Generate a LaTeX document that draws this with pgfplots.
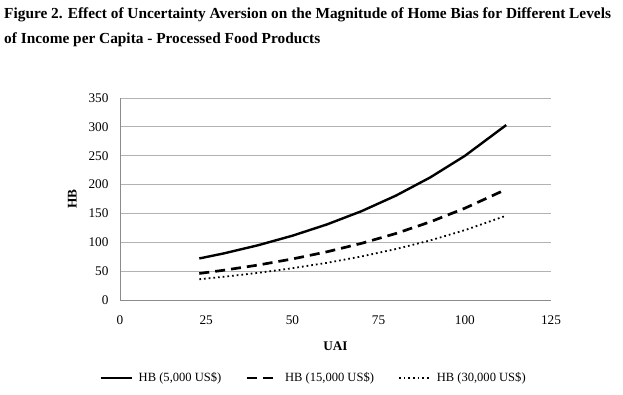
\documentclass[border=0pt]{standalone}
\usepackage{fontspec}
\setmainfont{Liberation Serif}
\usepackage{pgfplots}
\pgfplotsset{compat=1.18}
\begin{document}
\begin{tikzpicture}[x=1bp,y=1bp]
\useasboundingbox (0,0) rectangle (623,394);
\node[anchor=west,font=\fontsize{15.4}{18}\selectfont\bfseries,inner sep=0] at (4,379) {Figure 2. Effect of Uncertainty Aversion on the Magnitude of Home Bias for Different Levels};
\node[anchor=west,font=\fontsize{15.4}{18}\selectfont\bfseries,inner sep=0] at (4,354) {of Income per Capita - Processed Food Products};
\begin{axis}[
  at={(120bp,94bp)}, anchor=south west,
  scale only axis, width=431bp, height=202bp,
  xmin=0, xmax=125, ymin=0, ymax=350,
  xtick={0,25,50,75,100,125}, ytick={0,50,100,150,200,250,300,350},
  axis x line*=bottom, axis y line*=left,
  axis line style={draw=gray!90, line width=0.9pt, -},
  major tick length=0pt,
  ymajorgrids, grid style={draw=gray!60, line width=0.9pt},
  tick label style={font=\fontsize{13.3}{15}\selectfont},
  /pgf/number format/assume math mode=true,
  yticklabel style={xshift=-8bp},
  xticklabel style={yshift=-12bp},
  xlabel={\bfseries UAI}, ylabel={\bfseries HB},
  label style={font=\fontsize{13.3}{15}\selectfont},
  xlabel style={yshift=-10bp},
  ylabel style={yshift=5bp},
  legend columns=3,
  legend style={at={(0.449,-0.386)}, anchor=center, draw=none, fill=none,
    font=\fontsize{12.6}{14}\selectfont, inner sep=0pt,
    /tikz/every odd column/.append style={column sep=4bp},
    /tikz/every even column/.append style={column sep=22bp}},
  legend image code/.code={\draw[#1] (0bp,0bp) -- (31bp,0bp);},
]
\addplot[black, line width=2.4bp] coordinates {
(23,72) (30,80.6) (40,94.8) (50,111.4) (60,130.9) (70,153.8) (80,180.8) (90,212.5) (100,249.7) (112,303.1)};
\addlegendentry{HB (5,000 US\$)}
\addplot[black, line width=2.7bp, dash pattern=on 10bp off 6bp] coordinates {
(23,46) (30,51.5) (40,60.5) (50,71.1) (60,83.5) (70,98.1) (80,115.2) (90,135.4) (100,159.0) (111,189)};
\addlegendentry{HB (15,000 US\$)}
\addplot[black, line width=1.8bp, dash pattern=on 1.7bp off 3bp] coordinates {
(23,36) (30,40.2) (40,47.0) (50,55.1) (60,64.4) (70,75.4) (80,88.3) (90,103.3) (100,121.0) (112,146.1)};
\addlegendentry{HB (30,000 US\$)}
\end{axis}
\end{tikzpicture}
\end{document}
